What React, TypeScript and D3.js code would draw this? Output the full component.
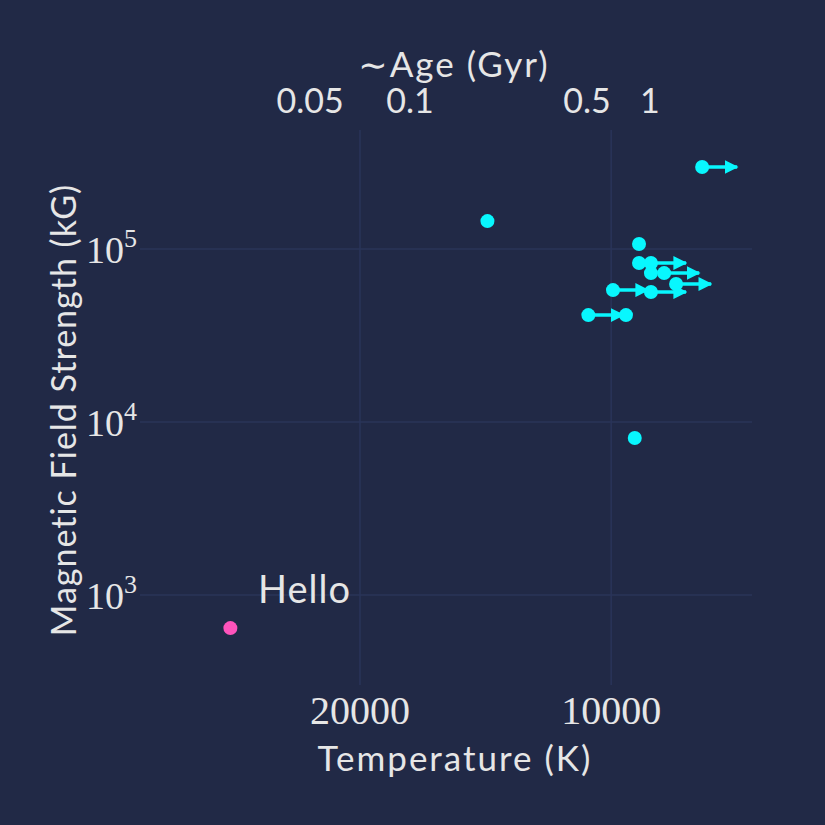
import * as d3 from "d3";

const temps = [7780, 9260, 9260, 8960, 8960, 8640, 8360, 9950, 8960, 10650, 9600, 9370, 14070];
const fields = [298000, 107000, 83000, 83000, 72600, 72600, 62800, 57900, 56400, 41500, 41500, 8090, 145000];
const lowerLimit = [true, false, false, true, false, true, true, true, true, true, false, false, false];
const helloTemp = 28600;
const helloField = 644;
const xTicks = [20000, 10000];
const yTicks = [1e3, 1e4, 1e5];
const ageLabels = ["0.05", "0.1", "0.5", "1"];
const ageTemps = [22950, 17420, 10690, 8990];

const W = 825, H = 825;
const m = { left: 140, right: 73, top: 130, bottom: 140 };
const bg = "#212946";
const grid = "#2A3459";
const txt = "#e6e6e6";
const cyan = "#08F7FE";
const pink = "#FE53BB";
const sans = "Lato, 'DejaVu Sans', sans-serif";
const serif = "'Liberation Serif', 'DejaVu Serif', serif";

export default function App() {
  const x = d3.scaleLog().domain([36700, 6780]).range([m.left, W - m.right]);
  const y = d3.scaleLog().domain([10 ** 2.48, 10 ** 5.688]).range([H - m.bottom, m.top]);
  const sup = (v: number) => String(Math.round(Math.log10(v)));
  return (
    <svg width={W} height={H} style={{ position: "absolute", left: 0, top: 0, background: bg }}>
      <defs>
        <marker id="arr" viewBox="0 0 10 10" refX="9" refY="5" markerWidth="4" markerHeight="4" orient="auto">
          <path d="M0,0 L10,5 L0,10 z" fill={cyan} />
        </marker>
      </defs>
      <rect width={W} height={H} fill={bg} />
      {xTicks.map((t) => (
        <line key={t} x1={x(t)} x2={x(t)} y1={m.top} y2={H - m.bottom} stroke={grid} strokeWidth={1.5} />
      ))}
      {yTicks.map((t) => (
        <line key={t} x1={m.left} x2={W - m.right} y1={y(t)} y2={y(t)} stroke={grid} strokeWidth={1.5} />
      ))}
      {xTicks.map((t) => (
        <text key={t} x={x(t)} y={724} textAnchor="middle" fill={txt} fontFamily={serif} fontSize={40}>{t}</text>
      ))}
      {yTicks.map((t) => (
        <text key={t} x={137} y={y(t) + 14} textAnchor="end" fill={txt} fontFamily={serif} fontSize={38}>
          10<tspan dy={-16} fontSize={26}>{sup(t)}</tspan>
        </text>
      ))}
      {ageLabels.map((l, i) => (
        <text key={l} x={x(ageTemps[i])} y={113} textAnchor="middle" fill={txt} fontFamily={sans} fontSize={34}>{l}</text>
      ))}
      <text x={454} y={77} textAnchor="middle" fill={txt} fontFamily={sans} fontSize={35} letterSpacing={2}>∼Age (Gyr)</text>
      <text x={455} y={771} textAnchor="middle" fill={txt} fontFamily={sans} fontSize={35} letterSpacing={2}>Temperature (K)</text>
      <text transform="translate(76,410) rotate(-90)" textAnchor="middle" fill={txt} fontFamily={sans} fontSize={34} letterSpacing={1}>Magnetic Field Strength (kG)</text>
      {temps.map((t, i) =>
        lowerLimit[i] ? (
          <line key={"a" + i} x1={x(t)} y1={y(fields[i])} x2={x(t) + 35} y2={y(fields[i])} stroke={cyan} strokeWidth={3.5} markerEnd="url(#arr)" />
        ) : null
      )}
      {temps.map((t, i) => (
        <circle key={i} cx={x(t)} cy={y(fields[i])} r={7} fill={cyan} />
      ))}
      <circle cx={x(helloTemp)} cy={y(helloField)} r={7} fill={pink} />
      <text x={258} y={603} fill={txt} fontFamily={sans} fontSize={38} letterSpacing={1}>Hello</text>
    </svg>
  );
}
